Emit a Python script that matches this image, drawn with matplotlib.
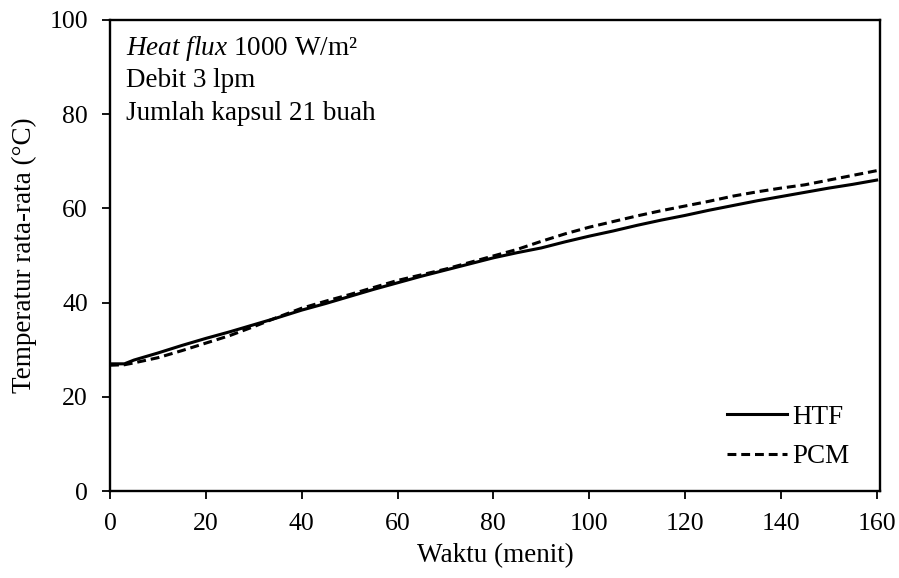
import numpy as np
import matplotlib
matplotlib.use("Agg")
import matplotlib.pyplot as plt

plt.rcParams['font.family'] = ['Liberation Serif', 'DejaVu Serif']
plt.rcParams['mathtext.fontset'] = 'custom'
plt.rcParams['mathtext.rm'] = 'Liberation Serif'
plt.rcParams['mathtext.it'] = 'Liberation Serif:italic'

# waktu (menit)
waktu = [0, 3, 5, 10, 15, 20, 25, 30, 35, 40, 45, 50, 55, 60, 65, 70, 75, 80,
         85, 90, 95, 100, 105, 110, 115, 120, 125, 130, 135, 140, 145, 150, 155, 160]
# temperatur rata-rata HTF
htf = [27.0, 27.0, 27.8, 29.3, 30.9, 32.4, 33.8, 35.3, 36.8, 38.4, 39.8, 41.3,
       42.8, 44.2, 45.6, 46.9, 48.2, 49.5, 50.6, 51.6, 52.9, 54.1, 55.2, 56.4,
       57.5, 58.5, 59.6, 60.6, 61.6, 62.5, 63.4, 64.3, 65.1, 66.0]
# temperatur rata-rata PCM
pcm = [26.7, 26.8, 27.2, 28.3, 29.8, 31.4, 33.0, 34.9, 36.9, 38.8, 40.3, 41.7,
       43.2, 44.7, 45.9, 47.1, 48.5, 49.9, 51.3, 53.0, 54.6, 56.0, 57.2, 58.4,
       59.5, 60.5, 61.5, 62.6, 63.5, 64.3, 65.0, 66.0, 67.0, 68.0]

fs = 19.5

fig = plt.figure(figsize=(8.99, 5.78), dpi=100)
ax = fig.add_axes([0.1224, 0.1505, 0.857, 0.815])

ax.plot(waktu, htf, color='black', lw=2.2, label='HTF')
ax.plot(waktu, pcm, color='black', lw=2.2, linestyle=(0, (2.9, 1.6)), label='PCM')

ax.set_xlim(0, 160.8)
ax.set_ylim(0, 100)
ax.set_xticks(np.arange(0, 161, 20))
ax.set_yticks(np.arange(0, 101, 20))
ax.tick_params(direction='out', length=6, width=1.3, labelsize=18.5, pad=10)
for s in ax.spines.values():
    s.set_linewidth(1.7)

ax.set_xlabel('Waktu (menit)', fontsize=fs, labelpad=6)
ax.set_ylabel('Temperatur rata-rata (°C)', fontsize=fs, labelpad=9)

ax.text(0.021, 0.926, r'$\it{Heat\ flux}$' + ' 1000 W/m²', transform=ax.transAxes,
        fontsize=fs, va='baseline')
ax.text(0.021, 0.858, 'Debit 3 lpm', transform=ax.transAxes, fontsize=fs, va='baseline')
ax.text(0.021, 0.788, 'Jumlah kapsul 21 buah', transform=ax.transAxes, fontsize=fs,
        va='baseline')

ax.legend(loc='lower right', bbox_to_anchor=(0.978, 0.018), frameon=False, fontsize=fs,
          borderpad=0, handlelength=2.2, handletextpad=0.22, labelspacing=0.52)

fig.savefig('out.png', dpi=100)
